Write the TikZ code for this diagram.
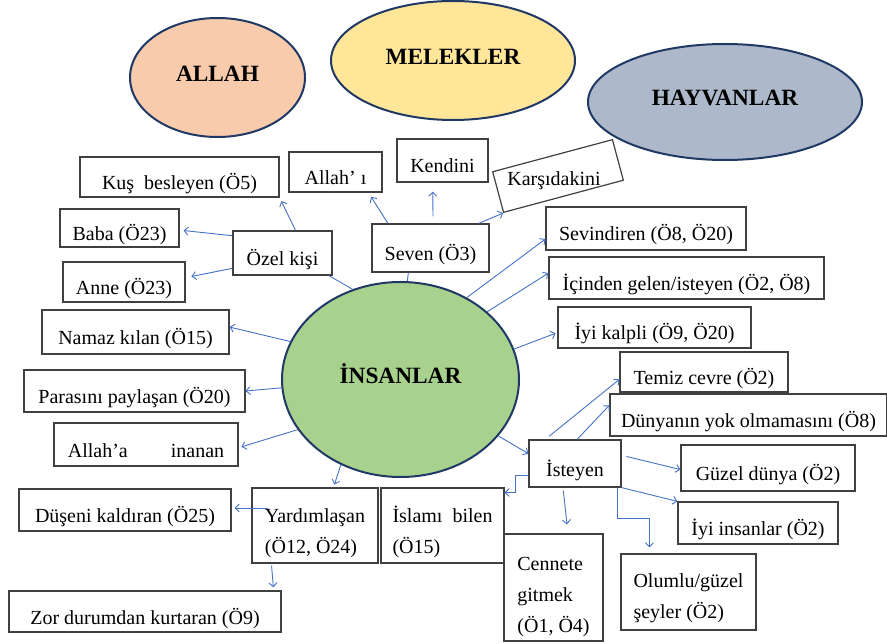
\documentclass[tikz,border=0pt]{standalone}
\usepackage{fontspec}
\setmainfont{Liberation Serif}
\usetikzlibrary{arrows.meta,shapes.geometric}
\definecolor{allahfill}{HTML}{F8CBAD}
\definecolor{melekfill}{HTML}{FFE699}
\definecolor{hayvanfill}{HTML}{ADB9CA}
\definecolor{insanfill}{HTML}{A9D18E}
\definecolor{ovalline}{HTML}{203864}
\definecolor{boxline}{HTML}{404040}
\definecolor{arrowblue}{HTML}{4472C4}

\begin{document}
\begin{tikzpicture}[x=1pt,y=-1pt,
        oval/.style={ellipse,draw=ovalline,line width=2pt,inner sep=0pt,text height=15.5pt,text depth=8pt,font=\fontsize{23.3}{28}\selectfont\bfseries},
        bx/.style={draw=boxline,line width=1.2pt,inner sep=0pt,text height=27pt,text depth=2pt,font=\fontsize{20}{24}\selectfont},
        bxm/.style={draw=boxline,line width=1.2pt,inner sep=0pt,align=left,text depth=0pt,font=\fontsize{20}{31}\selectfont},
        txt/.style={inner sep=0pt,font=\fontsize{20}{24}\selectfont},
        arr/.style={draw=arrowblue,line width=0.9pt,-{Straight Barb[length=4pt,width=8pt]}},
        lnk/.style={draw=arrowblue,line width=0.9pt}]
        \useasboundingbox (0,0) rectangle (887,644);

        \node[oval,fill=allahfill,minimum width=175pt,minimum height=119pt] (allah) at (217.5,77.5) {ALLAH};
        \node[oval,fill=melekfill,minimum width=244pt,minimum height=119pt] (melek) at (453,60.5) {MELEKLER};
        \node[oval,fill=hayvanfill,minimum width=274pt,minimum height=116pt] (hayvan) at (725,102) {HAYVANLAR};
        \node[oval,fill=insanfill,minimum width=237pt,minimum height=195pt] (insan) at (400.5,379.5) {İNSANLAR};

        \node[bx,minimum width=199pt,minimum height=40pt] (kus) at (179.5,177) {Kuş\ \ besleyen (Ö5)};
        \node[bx,minimum width=93pt,minimum height=40pt] (allahi) at (335.5,172) {Allah’ ı};
        \node[bx,minimum width=91pt,minimum height=43pt] (kend) at (442.5,160.5) {Kendini};
        \node[bx,rotate=15,minimum width=124pt,minimum height=42pt] (kars) at (558,176) {};
        \node[txt] (karstext) at (554,181) {Karşıdakini};
        \node[bx,minimum width=117pt,minimum height=48pt] (seven) at (430.5,248) {Seven (Ö3)};
        \node[bx,minimum width=99pt,minimum height=44pt] (ozel) at (282.5,253) {Özel kişi};
        \node[bx,minimum width=119pt,minimum height=38pt] (baba) at (119.5,228) {Baba (Ö23)};
        \node[bx,minimum width=122pt,minimum height=40pt] (anne) at (124,282) {Anne (Ö23)};
        \node[bx,minimum width=187pt,minimum height=44pt] (namaz) at (135.5,332) {Namaz kılan (Ö15)};
        \node[bx,minimum width=221pt,minimum height=42pt] (paras) at (134.5,391) {Parasını paylaşan (Ö20)};
        \node[bx,minimum width=184pt,minimum height=43pt] (allaha) at (146,444.5) {Allah’a\hspace{43pt}inanan};
        \node[bx,minimum width=212pt,minimum height=42pt] (dusen) at (125,510) {Düşeni kaldıran (Ö25)};
        \node[bxm,text height=55pt,minimum width=126pt,minimum height=75pt] (yard) at (315,525.5) {Yardımlaşan\\(Ö12, Ö24)};
        \node[bxm,text height=55pt,minimum width=123pt,minimum height=75pt] (islam) at (442.5,525.5) {İslamı\enspace bilen\\(Ö15)};
        \node[bx,minimum width=272pt,minimum height=41pt] (zor) at (145,611.5) {Zor durumdan kurtaran (Ö9)};
        \node[bx,minimum width=200pt,minimum height=43pt] (sevi) at (646,228.5) {Sevindiren (Ö8, Ö20)};
        \node[bx,minimum width=275pt,minimum height=42pt] (icin) at (686.5,278) {İçinden gelen/isteyen (Ö2, Ö8)};
        \node[bx,minimum width=193pt,minimum height=41pt] (iyik) at (654.5,327.5) {İyi kalpli (Ö9, Ö20)};
        \node[bx,minimum width=168pt,minimum height=40pt] (temiz) at (704,372) {Temiz cevre (Ö2)};
        \node[bx,minimum width=277pt,minimum height=42pt] (dunya) at (748.5,415) {Dünyanın yok olmamasını (Ö8)};
        \node[bx,minimum width=92pt,minimum height=47pt] (ist) at (575,463.5) {İsteyen};
        \node[bx,minimum width=174pt,minimum height=46pt] (guzel) at (768,468) {Güzel dünya (Ö2)};
        \node[bx,minimum width=160pt,minimum height=42pt] (iyii) at (758,523) {İyi insanlar (Ö2)};
        \node[bxm,text height=89pt,minimum width=99pt,minimum height=107pt] (cen) at (553.5,587.5) {Cennete\\gitmek\\(Ö1, Ö4)};
        \node[bxm,text height=52pt,minimum width=135pt,minimum height=76pt] (olum) at (688.5,592) {Olumlu/güzel\\şeyler (Ö2)};

        \draw[lnk] (insan.118) -- (ozel.334);
        \draw[lnk] (insan.86) -- (seven.228);
        \draw[arr] (insan.51) -- (sevi.186);
        \draw[arr] (insan.38) -- (icin.178);
        \draw[arr,shorten >=2pt] (insan.15) -- (iyik.183);
        \draw[arr] (insan.161) -- (namaz.3);
        \draw[arr] (insan.184) -- (paras.east);
        \draw[arr,shorten >=3pt] (insan.206) -- (allaha.358);
        \draw[arr,shorten >=3pt] (insan.235) -- (yard.64);
        \draw[arr] (insan.330) -- (ist.168);
        \draw[arr,shorten >=4pt] (ozel.60) -- (kus.south east);
        \draw[arr,shorten >=4pt] (ozel.161) -- (baba.358);
        \draw[arr,shorten >=6pt] (ozel.197) -- (anne.4);
        \draw[arr,shorten >=5pt] (seven.150) -- (allahi.328);
        \draw[arr,shorten <=7pt,shorten >=9pt] (seven.84) -- (kend.246);
        \draw[arr] (seven.27) -- (kars.south west);
        \draw[arr,shorten >=3pt] ([xshift=17pt,yshift=17.5pt]yard.west) -- ([yshift=2pt]dusen.east);
        \draw[arr,shorten <=2pt,shorten >=3pt] ([xshift=20pt]yard.south west) -- ([xshift=-8pt]zor.north east);
        \draw[arr,shorten <=5pt] (ist.141) -- (temiz.185);
        \draw[arr] (ist.85) -- (dunya.176);
        \draw[arr,shorten <=5pt] (ist.10) -- (guzel.181);
        \draw[arr] (ist.south east) -- (iyii.north west);
        \draw[arr,shorten >=6pt] ([xshift=-4pt]ist.south east) -- ++(0,31) -| ([xshift=29pt]olum.north west);
        \draw[arr,shorten <=3pt,shorten >=9pt] ([xshift=-12pt]ist.south) -- ([xshift=14.5pt]cen.north);
        \draw[arr] ([yshift=-11.5pt]ist.west) -- ++(-13,0) |- ([yshift=-5pt]islam.north east);
    \end{tikzpicture}
\end{document}
